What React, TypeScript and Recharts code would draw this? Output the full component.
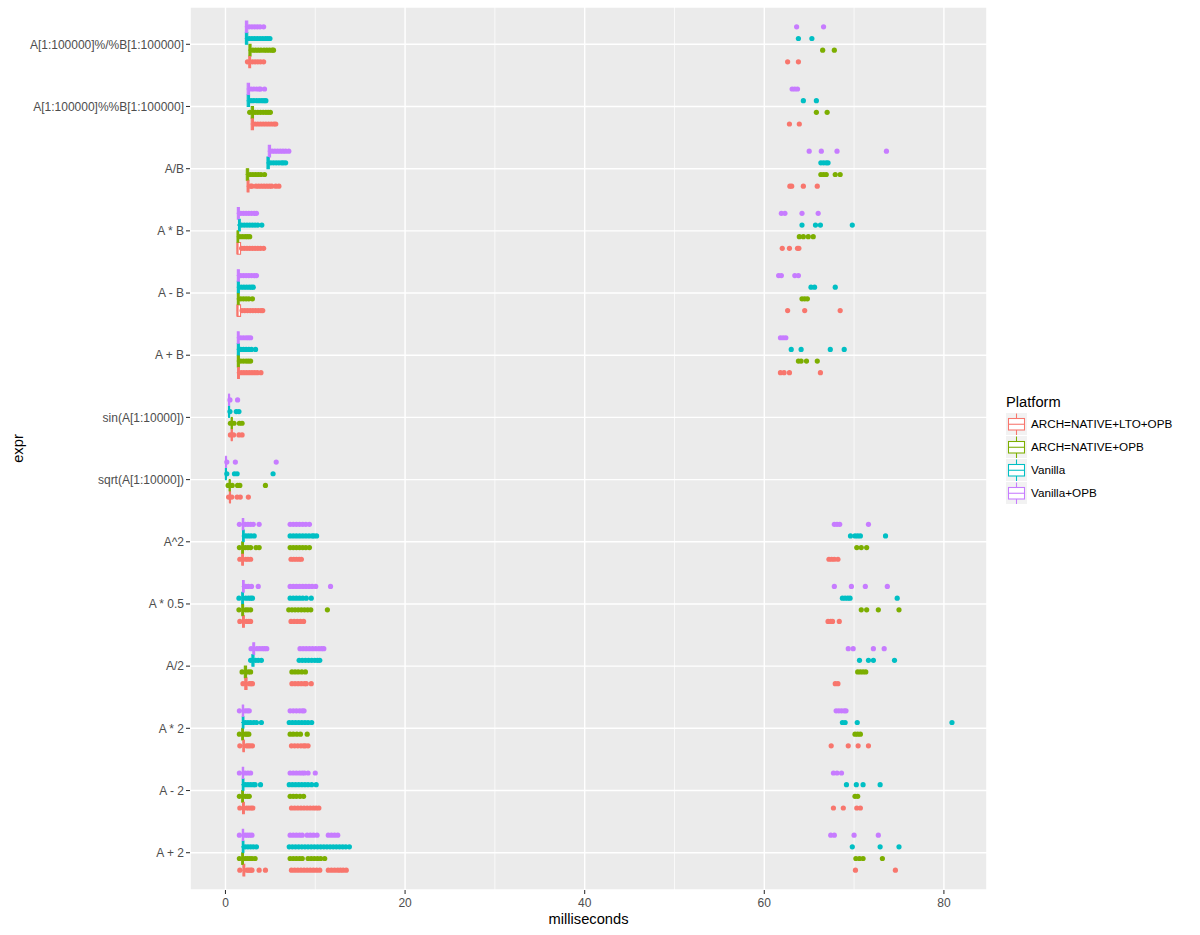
import { ScatterChart, Scatter, XAxis, YAxis, CartesianGrid, ReferenceArea, ReferenceLine, Legend } from 'recharts';

const FONT = '"Liberation Sans", Arial, sans-serif';

// categories from bottom to top of the plot
const CATEGORIES = [
  'A + 2',
  'A - 2',
  'A * 2',
  'A/2',
  'A * 0.5',
  'A^2',
  'sqrt(A[1:10000])',
  'sin(A[1:10000])',
  'A + B',
  'A - B',
  'A * B',
  'A/B',
  'A[1:100000]%%B[1:100000]',
  'A[1:100000]%/%B[1:100000]',
];

const PLATFORMS = ['ARCH=NATIVE+LTO+OPB', 'ARCH=NATIVE+OPB', 'Vanilla', 'Vanilla+OPB'];
const COLORS = ['#F8766D', '#7CAE00', '#00BFC4', '#C77CFF'];

const X_TICKS = [0, 20, 40, 60, 80];
const X_MINOR = [10, 30, 50, 70];

// [lower whisker, q1, median, q3, upper whisker], same order as CATEGORIES
const ltoBoxes = [
  [1.8, 1.95, 2.05, 2.15, 2.3],
  [1.75, 1.9, 2.0, 2.1, 2.25],
  [1.8, 1.95, 2.02, 2.1, 2.25],
  [2.0, 2.15, 2.28, 2.4, 2.55],
  [1.75, 1.9, 2.0, 2.1, 2.25],
  [1.7, 1.82, 1.9, 2.0, 2.15],
  [0.42, 0.47, 0.5, 0.55, 0.6],
  [0.6, 0.66, 0.7, 0.74, 0.8],
  [1.25, 1.35, 1.45, 1.55, 1.65],
  [1.27, 1.31, 1.34, 1.68, 1.75],
  [1.27, 1.31, 1.34, 1.68, 1.72],
  [2.35, 2.42, 2.5, 2.62, 2.7],
  [2.8, 2.87, 3.0, 3.12, 3.2],
  [2.55, 2.6, 2.7, 2.8, 2.88],
];

const nativeBoxes = [
  [1.7, 1.82, 1.9, 2.0, 2.1],
  [1.7, 1.82, 1.9, 2.0, 2.1],
  [1.7, 1.82, 1.9, 2.0, 2.1],
  [2.0, 2.1, 2.22, 2.35, 2.45],
  [1.7, 1.82, 1.92, 2.02, 2.12],
  [1.7, 1.82, 1.9, 2.0, 2.1],
  [0.4, 0.44, 0.47, 0.5, 0.55],
  [0.6, 0.66, 0.7, 0.74, 0.78],
  [1.25, 1.32, 1.42, 1.55, 1.62],
  [1.25, 1.32, 1.42, 1.52, 1.6],
  [1.25, 1.3, 1.38, 1.47, 1.52],
  [2.25, 2.32, 2.45, 2.58, 2.65],
  [2.8, 2.87, 3.0, 3.12, 3.2],
  [2.55, 2.62, 2.72, 2.85, 2.92],
];

const vanillaBoxes = [
  [1.75, 1.88, 1.95, 2.05, 2.12],
  [1.75, 1.88, 1.95, 2.05, 2.12],
  [1.75, 1.88, 1.95, 2.05, 2.12],
  [2.85, 2.95, 3.05, 3.18, 3.25],
  [1.7, 1.82, 1.9, 2.0, 2.1],
  [1.8, 1.9, 1.98, 2.08, 2.15],
  [-0.02, 0.02, 0.05, 0.08, 0.1],
  [0.33, 0.37, 0.4, 0.43, 0.46],
  [1.25, 1.32, 1.42, 1.55, 1.62],
  [1.25, 1.32, 1.42, 1.55, 1.62],
  [1.28, 1.45, 1.52, 1.65, 1.72],
  [4.55, 4.62, 4.75, 4.88, 4.95],
  [2.35, 2.42, 2.55, 2.68, 2.75],
  [2.15, 2.22, 2.35, 2.48, 2.55],
];

const vanillaOpbBoxes = [
  [1.75, 1.88, 1.95, 2.02, 2.12],
  [1.75, 1.88, 1.95, 2.02, 2.12],
  [1.75, 1.88, 1.95, 2.02, 2.12],
  [2.95, 3.05, 3.15, 3.25, 3.35],
  [1.8, 1.9, 1.98, 2.08, 2.15],
  [1.75, 1.88, 1.95, 2.03, 2.12],
  [-0.02, 0.03, 0.06, 0.09, 0.12],
  [0.33, 0.37, 0.4, 0.43, 0.47],
  [1.25, 1.32, 1.42, 1.52, 1.6],
  [1.25, 1.32, 1.42, 1.55, 1.62],
  [1.25, 1.32, 1.42, 1.55, 1.62],
  [4.7, 4.77, 4.9, 5.02, 5.1],
  [2.35, 2.42, 2.55, 2.68, 2.75],
  [2.15, 2.22, 2.35, 2.48, 2.55],
];

// outlier points (ms), same order as CATEGORIES
const ltoOutliers = [
  [1.6, 2.4, 2.6, 2.8, 2.95, 3.75, 4.45, 7.35, 7.7, 8.05, 8.4, 8.75, 9.1, 9.45, 9.8, 10.15, 10.5, 11.45, 11.8, 12.15, 12.5, 12.8, 13.1, 13.45, 70.15, 74.6],
  [1.6, 2.35, 2.6, 2.85, 3.05, 7.35, 7.7, 8.05, 8.4, 8.75, 9.1, 9.45, 9.8, 10.1, 10.4, 67.7, 68.8, 70.3, 70.7],
  [1.6, 2.35, 2.55, 2.75, 3.0, 7.35, 7.7, 8.05, 8.4, 8.7, 8.9, 9.2, 67.45, 69.35, 70.45, 71.6],
  [1.95, 2.65, 2.85, 3.0, 7.4, 7.75, 8.1, 8.45, 8.8, 9.0, 9.55, 67.9, 68.2],
  [1.6, 2.35, 2.6, 2.8, 7.3, 7.65, 8.0, 8.35, 8.7, 67.1, 67.4, 67.6, 68.35],
  [1.6, 2.25, 2.5, 2.8, 7.3, 7.6, 7.9, 8.2, 8.45, 67.2, 67.5, 67.8, 68.2],
  [0.35, 0.7, 1.3, 1.65, 2.55],
  [0.55, 0.9, 1.5, 1.85],
  [1.75, 2.05, 2.35, 2.65, 2.95, 3.25, 3.55, 3.95, 61.8, 62.2, 62.8, 66.25],
  [1.85, 2.15, 2.45, 2.75, 3.05, 3.35, 3.65, 3.95, 4.15, 62.6, 64.5, 68.45],
  [1.8, 2.1, 2.4, 2.7, 3.0, 3.3, 3.6, 3.9, 4.25, 62.0, 62.8, 63.7, 63.85],
  [2.8, 2.95, 3.4, 3.7, 4.0, 4.3, 4.6, 4.9, 5.15, 5.6, 5.95, 62.85, 63.05, 64.35, 65.9],
  [3.3, 3.6, 3.9, 4.2, 4.5, 4.8, 5.1, 5.4, 5.6, 62.8, 63.9],
  [2.45, 3.0, 3.3, 3.6, 3.9, 4.25, 62.6, 63.8],
];

const nativeOutliers = [
  [1.55, 2.2, 2.45, 2.7, 2.95, 3.3, 7.2, 7.55, 7.9, 8.25, 8.55, 9.2, 9.55, 9.9, 10.25, 10.6, 11.05, 70.2, 70.6, 71.0, 73.15],
  [1.55, 2.2, 2.45, 2.65, 7.2, 7.55, 7.9, 8.3, 8.7, 70.1, 70.4],
  [1.55, 2.2, 2.4, 2.6, 7.2, 7.55, 7.95, 8.35, 9.1, 70.1, 70.4, 70.7],
  [1.85, 2.55, 2.8, 7.4, 7.75, 8.1, 8.5, 8.9, 70.4, 70.7, 71.0, 71.3],
  [1.5, 2.25, 2.5, 2.8, 7.05, 7.4, 7.75, 8.1, 8.45, 8.8, 9.15, 9.5, 11.35, 70.8, 71.4, 72.7, 75.0],
  [1.55, 2.2, 2.5, 2.8, 3.4, 3.75, 7.2, 7.55, 7.9, 8.25, 8.6, 8.95, 9.35, 70.3, 70.8, 71.4],
  [0.3, 0.75, 1.35, 1.6, 4.45],
  [0.55, 0.95, 1.55, 1.85],
  [1.7, 2.0, 2.3, 2.55, 2.8, 63.8, 64.1, 64.7, 65.9],
  [1.7, 2.0, 2.3, 2.6, 3.0, 64.2, 64.5, 64.8],
  [1.6, 1.9, 2.2, 2.45, 2.7, 63.9, 64.35, 64.9, 65.45],
  [2.75, 3.05, 3.35, 3.65, 3.95, 4.35, 66.3, 66.6, 66.9, 67.9, 68.45],
  [2.7, 3.3, 3.6, 3.9, 4.2, 4.5, 4.75, 5.0, 65.8, 67.0],
  [3.05, 3.35, 3.65, 3.95, 4.3, 4.6, 4.9, 5.2, 5.35, 66.5, 67.8],
];

const vanillaOutliers = [
  [2.2, 2.5, 2.8, 3.1, 3.45, 7.1, 7.45, 7.8, 8.15, 8.5, 8.85, 9.2, 9.55, 9.9, 10.25, 10.6, 10.95, 11.3, 11.65, 12.0, 12.35, 12.7, 13.05, 13.4, 13.8, 69.8, 72.9, 75.0],
  [2.2, 2.5, 2.8, 3.1, 3.3, 3.9, 7.1, 7.45, 7.8, 8.15, 8.5, 8.85, 9.2, 9.6, 10.1, 69.15, 70.25, 71.0, 72.9],
  [2.2, 2.5, 2.8, 3.15, 3.45, 4.0, 7.1, 7.45, 7.8, 8.15, 8.5, 8.85, 9.2, 9.6, 68.7, 69.0, 70.35, 80.9],
  [2.8, 3.35, 3.65, 4.0, 8.2, 8.55, 8.9, 9.25, 9.6, 9.95, 10.25, 10.5, 70.6, 71.6, 72.15, 74.5],
  [1.5, 2.25, 2.55, 2.8, 3.0, 7.2, 7.55, 7.9, 8.25, 8.6, 9.0, 9.55, 68.7, 69.0, 69.3, 69.55, 74.8],
  [2.25, 2.55, 2.85, 3.2, 7.2, 7.55, 7.9, 8.25, 8.6, 8.95, 9.3, 9.65, 9.85, 10.15, 69.6, 70.1, 70.4, 70.7, 73.5],
  [0.15, 1.0, 1.3, 5.3],
  [0.5, 1.2, 1.5],
  [1.7, 2.0, 2.3, 2.6, 2.9, 3.35, 63.0, 64.1, 67.35, 68.9],
  [1.75, 2.05, 2.35, 2.65, 2.9, 3.1, 65.2, 65.6, 67.9],
  [1.8, 2.1, 2.4, 2.7, 3.0, 3.3, 3.6, 4.05, 64.2, 65.7, 66.25, 69.8],
  [5.05, 5.35, 5.65, 5.95, 6.25, 6.45, 6.7, 66.3, 66.6, 66.9, 67.1],
  [2.85, 3.15, 3.45, 3.75, 4.05, 4.3, 4.5, 64.35, 65.8],
  [2.65, 2.95, 3.25, 3.55, 3.85, 4.15, 4.45, 4.7, 4.95, 63.8, 65.3],
];

const vanillaOpbOutliers = [
  [1.55, 2.2, 2.45, 2.7, 2.95, 7.2, 7.55, 7.9, 8.25, 8.55, 9.1, 9.45, 9.8, 10.2, 11.45, 11.8, 12.15, 12.5, 67.4, 67.8, 70.0, 72.7],
  [1.55, 2.2, 2.5, 2.8, 7.2, 7.55, 7.9, 8.25, 8.55, 8.8, 9.2, 10.0, 67.7, 68.1, 68.6],
  [1.55, 2.2, 2.45, 2.65, 7.2, 7.55, 7.9, 8.25, 8.55, 8.75, 68.0, 68.3, 68.6, 68.9, 69.1],
  [2.85, 3.5, 3.8, 4.1, 4.35, 4.6, 8.3, 8.65, 9.0, 9.35, 9.7, 10.05, 10.4, 10.7, 10.95, 69.35, 69.9, 72.15, 73.35],
  [2.25, 2.55, 2.9, 3.65, 7.2, 7.55, 7.9, 8.25, 8.6, 8.95, 9.3, 9.65, 10.05, 11.7, 67.8, 69.7, 71.25, 73.7],
  [1.55, 2.2, 2.5, 2.8, 3.1, 3.75, 7.2, 7.55, 7.9, 8.25, 8.6, 8.95, 9.35, 67.8, 68.1, 68.4, 71.6],
  [0.15, 1.1, 5.65],
  [0.5, 1.35],
  [1.7, 2.0, 2.3, 2.55, 2.8, 61.8, 62.1, 62.4],
  [1.7, 2.0, 2.3, 2.6, 2.9, 3.2, 3.45, 61.6, 61.9, 63.4, 63.8],
  [1.7, 2.0, 2.3, 2.6, 2.9, 3.2, 3.45, 61.9, 62.3, 64.2, 66.0],
  [5.2, 5.5, 5.8, 6.1, 6.4, 6.7, 7.05, 65.0, 66.35, 68.1, 73.6],
  [2.85, 3.15, 3.45, 3.75, 3.9, 4.35, 63.1, 63.4, 63.7],
  [2.65, 2.95, 3.25, 3.55, 3.85, 4.25, 63.6, 66.6],
];

const BOXES = [ltoBoxes, nativeBoxes, vanillaBoxes, vanillaOpbBoxes];
const OUTLIERS = [ltoOutliers, nativeOutliers, vanillaOutliers, vanillaOpbOutliers];

// dodge: 4 boxes share 0.75 of a category slot
const DODGE = [-0.28125, -0.09375, 0.09375, 0.28125];
const HALF = 0.09375;

const catY = (c: number, p: number) => c + 1 + DODGE[p];

function ExprLabel(props: any) {
  const vb = props.viewBox || { y: 7, height: 883 };
  const cy = vb.y + vb.height / 2;
  return (
    <text x={22.6} y={cy} transform={`rotate(-90, 22.6, ${cy})`} textAnchor="middle" fontSize={14.7} fill="#000" fontFamily={FONT}>
      expr
    </text>
  );
}

function PlatformLegend() {
  return (
    <div style={{ fontFamily: FONT, color: '#000' }}>
      <div style={{ fontSize: 14.7, lineHeight: '20px', height: 20 }}>Platform</div>
      {PLATFORMS.map((name, i) => (
        <div key={name} style={{ display: 'flex', alignItems: 'center', height: 23 }}>
          <svg width={21} height={22} style={{ display: 'block' }}>
            <rect x={0} y={0} width={21} height={22} fill="#F2F2F2" />
            <line x1={10.5} y1={0.5} x2={10.5} y2={5.5} stroke={COLORS[i]} strokeWidth={1.07} />
            <line x1={10.5} y1={17} x2={10.5} y2={22} stroke={COLORS[i]} strokeWidth={1.07} />
            <rect x={2.5} y={5.5} width={16} height={11.5} fill="#fff" stroke={COLORS[i]} strokeWidth={1.07} />
            <line x1={2.5} y1={11.25} x2={18.5} y2={11.25} stroke={COLORS[i]} strokeWidth={1.07} />
          </svg>
          <span style={{ fontSize: 11.7, marginLeft: 4, whiteSpace: 'nowrap' }}>{name}</span>
        </div>
      ))}
    </div>
  );
}

export default function App() {
  const yTicks = CATEGORIES.map((_, i) => i + 1);

  const boxes = BOXES.flatMap((list, p) =>
    list.map((b, c) => {
      const y = catY(c, p);
      const color = COLORS[p];
      return [
        <ReferenceLine key={`wl-${p}-${c}`} segment={[{ x: b[0], y }, { x: b[1], y }]} stroke={color} strokeWidth={1.07} />,
        <ReferenceLine key={`wh-${p}-${c}`} segment={[{ x: b[3], y }, { x: b[4], y }]} stroke={color} strokeWidth={1.07} />,
        <ReferenceArea
          key={`bx-${p}-${c}`}
          x1={b[1]}
          x2={b[3]}
          y1={y - HALF}
          y2={y + HALF}
          fill="#FFFFFF"
          fillOpacity={1}
          stroke={color}
          strokeWidth={1.07}
          strokeOpacity={1}
        />,
        <ReferenceLine key={`md-${p}-${c}`} segment={[{ x: b[2], y: y - HALF }, { x: b[2], y: y + HALF }]} stroke={color} strokeWidth={2.2} />,
      ];
    })
  ).flat();

  return (
    <div style={{ position: 'absolute', left: 0, top: 0, width: 1200, height: 935, background: '#fff' }}>
      <ScatterChart width={1200} height={935} margin={{ top: 7, right: 213, bottom: 0, left: 0 }}>
        <CartesianGrid fill="#EBEBEB" stroke="#FFFFFF" strokeWidth={1.4} />
        <CartesianGrid xAxisId="minor" horizontal={false} stroke="#FFFFFF" strokeWidth={0.7} />
        <XAxis
          type="number"
          dataKey="x"
          domain={[-3.95, 84.8]}
          allowDataOverflow
          ticks={X_TICKS}
          interval={0}
          height={45}
          tickSize={4}
          tickMargin={4}
          axisLine={false}
          tickLine={{ stroke: '#333333', strokeWidth: 1.07 }}
          tick={{ fill: '#4D4D4D', fontSize: 12, fontFamily: FONT }}
          label={{ value: 'milliseconds', position: 'insideBottom', offset: 10.7, fill: '#000', fontSize: 14.7, fontFamily: FONT }}
        />
        <XAxis xAxisId="minor" type="number" dataKey="x" domain={[-3.95, 84.8]} allowDataOverflow ticks={X_MINOR} interval={0} hide />
        <YAxis
          type="number"
          dataKey="y"
          domain={[0.4, 14.6]}
          allowDataOverflow
          ticks={yTicks}
          interval={0}
          width={190}
          tickSize={4}
          tickMargin={2}
          axisLine={false}
          tickLine={{ stroke: '#333333', strokeWidth: 1.07 }}
          tick={{ fill: '#4D4D4D', fontSize: 12, fontFamily: FONT }}
          tickFormatter={(v: number) => CATEGORIES[Math.round(v) - 1] ?? ''}
          label={<ExprLabel />}
        />
        {OUTLIERS.map((list, p) => (
          <Scatter
            key={PLATFORMS[p]}
            name={PLATFORMS[p]}
            data={list.flatMap((vals, c) => vals.map((v) => ({ x: v, y: catY(c, p) })))}
            fill={COLORS[p]}
            isAnimationActive={false}
            shape={(s: any) => <circle cx={s.cx} cy={s.cy} r={2.6} fill={COLORS[p]} />}
          />
        ))}
        {boxes}
        <Legend
          layout="horizontal"
          verticalAlign="middle"
          align="center"
          wrapperStyle={{ left: 1006, top: 392, width: 190, height: 115 }}
          content={() => <PlatformLegend />}
        />
      </ScatterChart>
    </div>
  );
}
